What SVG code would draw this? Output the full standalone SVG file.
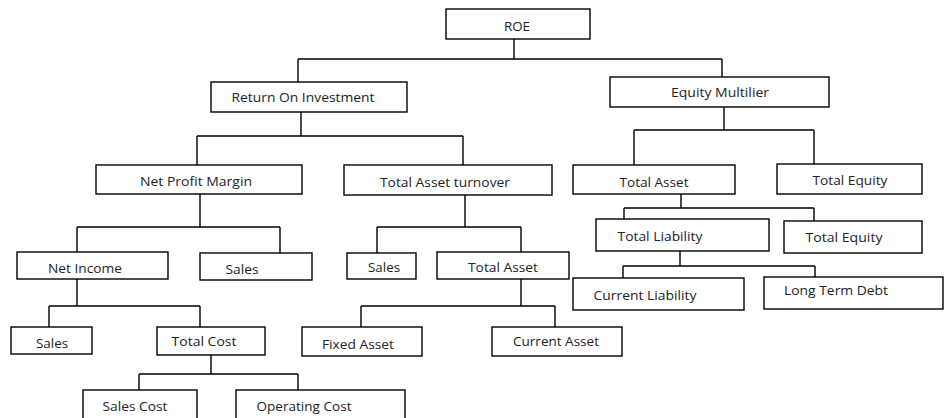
<svg xmlns="http://www.w3.org/2000/svg" width="947" height="418" viewBox="0 0 947 418">
<style>
.b{fill:#fff;stroke:#000;stroke-width:1.4}
.t{font-family:"Open Sans","Noto Sans",sans-serif;font-size:11.8px;fill:#222;text-anchor:middle}
.c{fill:none;stroke:#000;stroke-width:1.4}
</style>
<rect width="947" height="418" fill="#fff"/>
<g id="connectors">
<path class="c" d="M514 39V59M298 59H722M298 59V82M722 59V77"/>
<path class="c" d="M301 112V136M197 136H463M197 136V165M463 136V165"/>
<path class="c" d="M200 194V227M77 227H280M77 227V252M280 227V253"/>
<path class="c" d="M465 195V227M377 227H521M377 227V253M521 227V252"/>
<path class="c" d="M521 279V306M361 306H555M361 306V327M555 306V327"/>
<path class="c" d="M77 279V306M49 306H200M49 306V327M200 306V327"/>
<path class="c" d="M211 355V374M139 374H298M139 374V390M298 374V390"/>
<path class="c" d="M724 107V130M634 130H814M634 130V165M814 130V164"/>
<path class="c" d="M681 194V208M624 208H814M624 208V219M814 208V221"/>
<path class="c" d="M680 251V266M623 266H815M623 266V278M815 266V277"/>
</g>
<g id="roe"><rect class="b" x="446" y="9" width="144" height="30"/><text class="t" x="517" y="31" textLength="26" lengthAdjust="spacingAndGlyphs">ROE</text></g>
<g id="roi"><rect class="b" x="211" y="82" width="196" height="30"/><text class="t" x="303" y="102" textLength="143" lengthAdjust="spacingAndGlyphs">Return On Investment</text></g>
<g id="em"><rect class="b" x="610" y="77" width="219" height="30"/><text class="t" x="720" y="97" textLength="98" lengthAdjust="spacingAndGlyphs">Equity Multilier</text></g>
<g id="npm"><rect class="b" x="96" y="165" width="206" height="29"/><text class="t" x="196" y="186" textLength="112" lengthAdjust="spacingAndGlyphs">Net Profit Margin</text></g>
<g id="tat"><rect class="b" x="344" y="165" width="208" height="30"/><text class="t" x="445" y="187" textLength="130" lengthAdjust="spacingAndGlyphs">Total Asset turnover</text></g>
<g id="ta-r"><rect class="b" x="573" y="165" width="162" height="29"/><text class="t" x="654" y="187" textLength="69" lengthAdjust="spacingAndGlyphs">Total Asset</text></g>
<g id="te-1"><rect class="b" x="777" y="164" width="145" height="30"/><text class="t" x="850" y="185" textLength="75" lengthAdjust="spacingAndGlyphs">Total Equity</text></g>
<g id="ni"><rect class="b" x="17" y="252" width="151" height="27"/><text class="t" x="85" y="273" textLength="74" lengthAdjust="spacingAndGlyphs">Net Income</text></g>
<g id="sales-1"><rect class="b" x="200" y="253" width="112" height="27"/><text class="t" x="242" y="274" textLength="33" lengthAdjust="spacingAndGlyphs">Sales</text></g>
<g id="sales-2"><rect class="b" x="347" y="253" width="69" height="26"/><text class="t" x="384" y="272" textLength="32" lengthAdjust="spacingAndGlyphs">Sales</text></g>
<g id="ta-m"><rect class="b" x="437" y="252" width="132" height="27"/><text class="t" x="503" y="272" textLength="70" lengthAdjust="spacingAndGlyphs">Total Asset</text></g>
<g id="tl"><rect class="b" x="596" y="219" width="173" height="32"/><text class="t" x="660" y="241" textLength="85" lengthAdjust="spacingAndGlyphs">Total Liability</text></g>
<g id="te-2"><rect class="b" x="784" y="221" width="138" height="32"/><text class="t" x="844" y="242" textLength="77" lengthAdjust="spacingAndGlyphs">Total Equity</text></g>
<g id="cl"><rect class="b" x="573" y="278" width="171" height="32"/><text class="t" x="645" y="300" textLength="103" lengthAdjust="spacingAndGlyphs">Current Liability</text></g>
<g id="ltd"><rect class="b" x="764" y="277" width="179" height="32"/><text class="t" x="836" y="295" textLength="104" lengthAdjust="spacingAndGlyphs">Long Term Debt</text></g>
<g id="sales-3"><rect class="b" x="11" y="327" width="81" height="27"/><text class="t" x="52" y="348" textLength="32" lengthAdjust="spacingAndGlyphs">Sales</text></g>
<g id="tc"><rect class="b" x="157" y="327" width="108" height="28"/><text class="t" x="204" y="346" textLength="65" lengthAdjust="spacingAndGlyphs">Total Cost</text></g>
<g id="fa"><rect class="b" x="302" y="327" width="120" height="29"/><text class="t" x="358" y="349" textLength="72" lengthAdjust="spacingAndGlyphs">Fixed Asset</text></g>
<g id="ca"><rect class="b" x="492" y="327" width="130" height="29"/><text class="t" x="556" y="346" textLength="86" lengthAdjust="spacingAndGlyphs">Current Asset</text></g>
<g id="sc"><rect class="b" x="83" y="390" width="114" height="40"/><text class="t" x="135" y="411" textLength="65" lengthAdjust="spacingAndGlyphs">Sales Cost</text></g>
<g id="oc"><rect class="b" x="236" y="390" width="169" height="40"/><text class="t" x="304" y="411" textLength="95" lengthAdjust="spacingAndGlyphs">Operating Cost</text></g>
</svg>
